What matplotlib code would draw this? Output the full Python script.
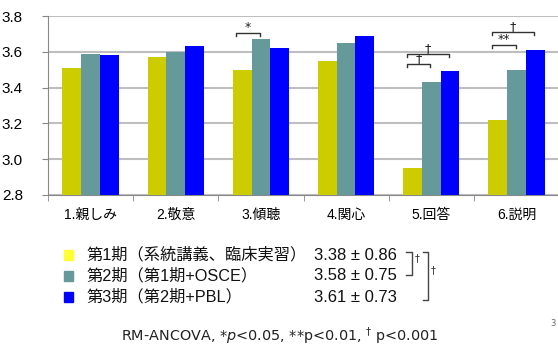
import numpy as np
import matplotlib
matplotlib.use("Agg")
import matplotlib.pyplot as plt
from matplotlib.patches import Rectangle
from matplotlib.lines import Line2D

jp_font = ['Liberation Sans', 'Noto Sans CJK JP']

categories = ['1.親しみ', '2.敬意', '3.傾聴', '4.関心', '5.回答', '6.説明']
period1 = [3.51, 3.57, 3.50, 3.55, 2.95, 3.22]
period2 = [3.59, 3.60, 3.67, 3.65, 3.43, 3.50]
period3 = [3.58, 3.63, 3.62, 3.69, 3.49, 3.61]
series_names = ['第1期（系統講義、臨床実習）', '第2期（第1期+OSCE）', '第3期（第2期+PBL）']
series_stats = ['3.38 ± 0.86', '3.58 ± 0.75', '3.61 ± 0.73']
bar_colors = ['#CCCC00', '#669999', '#0000FF']
swatch_colors = ['#FFFF33', '#669999', '#0000FF']

# significance brackets: (category index, from series, to series, y, label)
brackets = [
    (2, 0, 1, 3.703, '*'),
    (4, 0, 1, 3.530, '†'),
    (4, 0, 2, 3.586, '†'),
    (5, 0, 1, 3.638, '**'),
    (5, 0, 2, 3.710, '†'),
]

fig = plt.figure(figsize=(5.58, 3.47), dpi=100)
ax = fig.add_axes([48 / 558, 1 - 195 / 347, 511 / 558, 179 / 347])

x = np.arange(len(categories))
width = 0.22
offsets = [-width, 0, width]
for vals, off, col in zip([period1, period2, period3], offsets, bar_colors):
    ax.bar(x + off, vals, width, color=col, zorder=3)

ax.set_xlim(-0.5, len(categories) - 0.5)
ax.set_ylim(2.8, 3.8)
ax.set_yticks(np.arange(2.8, 3.81, 0.2))
ax.set_yticklabels([f'{v:.1f}' for v in np.arange(2.8, 3.81, 0.2)], family=jp_font, fontsize=11)
ax.yaxis.grid(True, color='#BEBEBE', lw=1.5, zorder=0)
ax.set_xticks(x)
ax.set_xticklabels(categories, family=jp_font, fontsize=10)
ax.set_xticks(np.arange(-0.5, len(categories)), minor=True)
ax.tick_params(axis='x', which='major', length=0, pad=9)
ax.tick_params(axis='x', which='minor', length=4, color='#888888')
ax.tick_params(axis='y', length=4, color='#888888', pad=14)
for s in ['top', 'right']:
    ax.spines[s].set_visible(False)
for s in ['left', 'bottom']:
    ax.spines[s].set_color('#888888')

h = 0.017
for cat, a, b, y, lab in brackets:
    x1 = cat + offsets[a] - 0.07
    x2 = cat + offsets[b] - 0.01
    ax.plot([x1, x1, x2, x2], [y - h, y, y, y - h], color='#333333', lw=1, zorder=4, clip_on=False)
    ax.text((x1 + x2) / 2, y - 0.005, lab, ha='center', va='bottom', fontsize=9, color='#222222')

# legend block below the chart
rows_y = [255, 276, 297]
for ry, col, name, stat in zip(rows_y, swatch_colors, series_names, series_stats):
    fig.patches.append(Rectangle((64 / 558, 1 - (ry + 5) / 347), 9 / 558, 10 / 347,
                                 transform=fig.transFigure, color=col))
    fig.text(86 / 558, 1 - ry / 347, name, family=jp_font, fontsize=11.7, va='center', color='#111111')
    fig.text(314 / 558, 1 - ry / 347, stat, family=jp_font, fontsize=12, va='center', color='#111111')


def fig_bracket(x0, x1, y0, y1):
    xs = np.array([x0, x1, x1, x0]) / 558
    ys = 1 - np.array([y0, y0, y1, y1]) / 347
    fig.lines.append(Line2D(xs, ys, transform=fig.transFigure, color='#444444', lw=1))


fig_bracket(406, 412, 252, 275)
fig.text(415 / 558, 1 - 258 / 347, '†', fontsize=7, va='center', color='#333333')
fig_bracket(423, 428, 252, 300)
fig.text(431 / 558, 1 - 270 / 347, '†', fontsize=7, va='center', color='#333333')

fig.text(280 / 558, 1 - 336 / 347, r'RM-ANCOVA, *$p$<0.05, **p<0.01, $^{\dagger}$ p<0.001',
         ha='center', va='center', fontsize=10.4, color='#222222')
fig.text(553 / 558, 1 - 323 / 347, '3', fontsize=6, ha='center', va='center', color='#666666')

fig.savefig('out.png', dpi=100)
